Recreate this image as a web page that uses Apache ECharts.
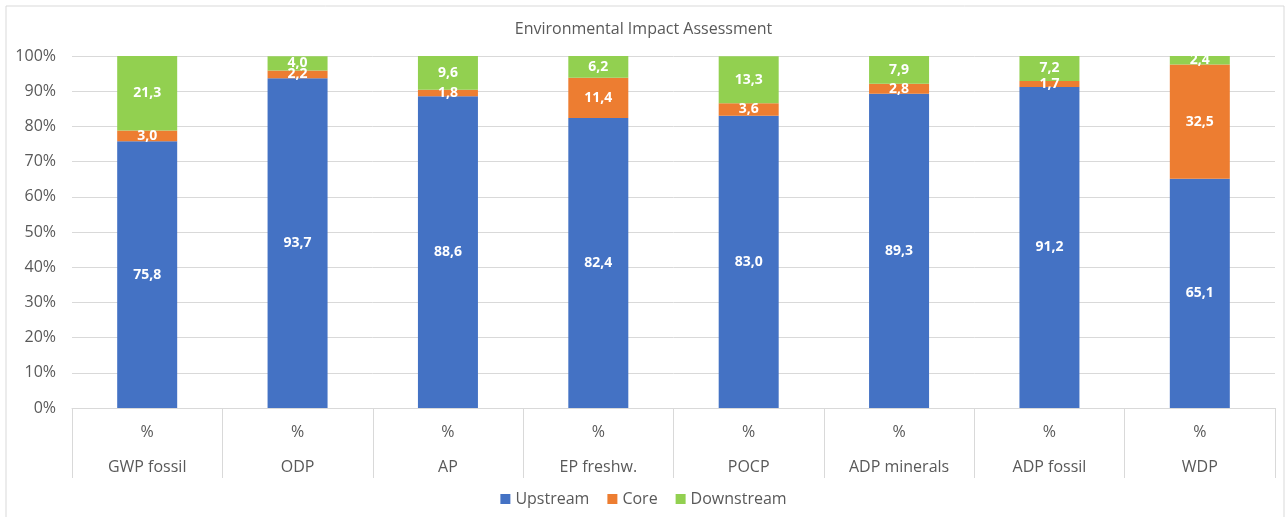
<!DOCTYPE html>
<html lang="en">
<head>
    <meta charset="UTF-8">
    <title>Environmental Impact Assessment</title>
    <script src="https://cdn.jsdelivr.net/npm/echarts@6/dist/echarts.min.js"></script>
    <style>
        html, body { margin: 0; padding: 0; background: #fff; }
    </style>
</head>
<body>
    <div id="main" style="width: 1287px; height: 517px;"></div>
    <script>
        const categories = ['GWP fossil', 'ODP', 'AP', 'EP freshw.', 'POCP', 'ADP minerals', 'ADP fossil', 'WDP'];
        const unitLabels = ['%', '%', '%', '%', '%', '%', '%', '%'];
        const upstream = [75.8, 93.7, 88.6, 82.4, 83.0, 89.3, 91.2, 65.1];
        const core = [3.0, 2.2, 1.8, 11.4, 3.6, 2.8, 1.7, 32.5];
        const downstream = [21.3, 4.0, 9.6, 6.2, 13.3, 7.9, 7.2, 2.4];
        const yTicks = [0, 10, 20, 30, 40, 50, 60, 70, 80, 90, 100];

        const fontFamily = '"Open Sans", "Noto Sans", sans-serif';
        const gridColor = '#d9d9d9';
        const textColor = '#595959';

        function seg(name, data, color) {
            return {
                name: name,
                type: 'bar',
                stack: 'total',
                barWidth: 60,
                data: data,
                itemStyle: { color: color },
                label: {
                    show: true,
                    position: 'inside',
                    color: '#fff',
                    fontWeight: 'bold',
                    fontSize: 14,
                    fontFamily: fontFamily,
                    formatter: p => p.value.toFixed(1).replace('.', ',')
                }
            };
        }

        const chart = echarts.init(document.getElementById('main'));
        chart.setOption({
            animation: false,
            textStyle: { fontFamily: fontFamily },
            title: {
                text: 'Environmental Impact Assessment',
                left: 'center',
                top: 16,
                textStyle: { fontSize: 16, fontWeight: 'normal', color: textColor, fontFamily: fontFamily }
            },
            graphic: [{
                type: 'rect',
                shape: { x: 6, y: 6, width: 1278, height: 530 },
                style: { fill: 'none', stroke: gridColor, lineWidth: 1 },
                silent: true
            }],
            legend: {
                bottom: 5,
                left: 'center',
                itemWidth: 10,
                itemHeight: 10,
                itemGap: 18,
                icon: 'rect',
                textStyle: { fontSize: 16, color: textColor, fontFamily: fontFamily },
                data: ['Upstream', 'Core', 'Downstream']
            },
            grid: { left: 72, right: 12, top: 56, bottom: 109, containLabel: false },
            xAxis: {
                type: 'category',
                data: categories,
                axisLine: { lineStyle: { color: gridColor } },
                axisTick: { show: true, length: 70, interval: 0, lineStyle: { color: gridColor } },
                axisLabel: {
                    interval: 0,
                    margin: 7,
                    lineHeight: 35,
                    fontSize: 16,
                    color: textColor,
                    formatter: (v, i) => unitLabels[i] + '\n' + v
                }
            },
            yAxis: {
                type: 'value',
                min: yTicks[0],
                max: yTicks[yTicks.length - 1],
                interval: 10,
                axisLine: { show: false },
                axisTick: { show: false },
                splitLine: { lineStyle: { color: gridColor } },
                axisLabel: { fontSize: 16, color: textColor, margin: 16, formatter: v => v + '%' }
            },
            series: [
                seg('Upstream', upstream, '#4472C4'),
                seg('Core', core, '#ED7D31'),
                seg('Downstream', downstream, '#92D050')
            ]
        });
    </script>
</body>
</html>
